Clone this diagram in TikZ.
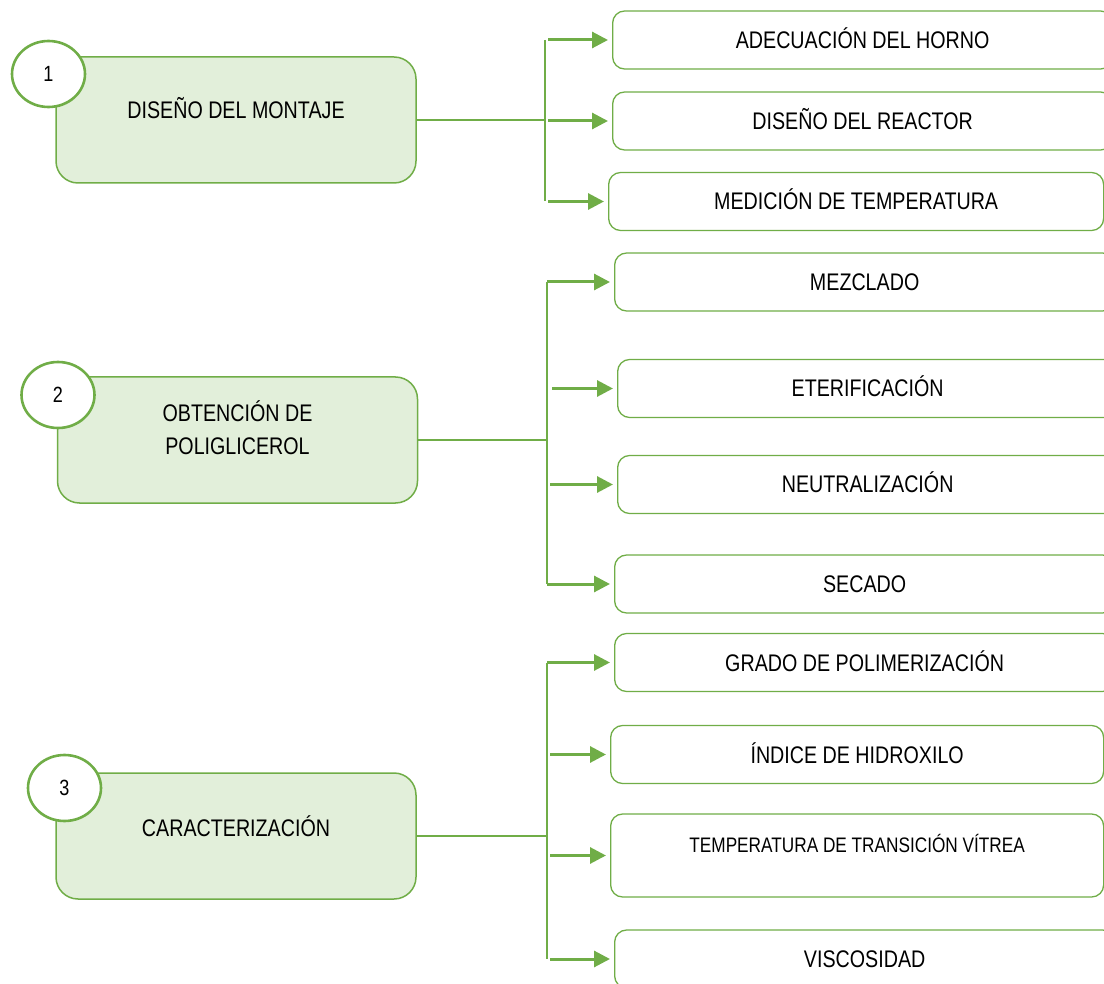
\documentclass[tikz,border=0pt]{standalone}
\usepackage{fontspec}
\setmainfont{Liberation Sans}[FakeStretch=0.82]
\usepackage{tikz}
\usetikzlibrary{arrows.meta,positioning,shapes.geometric,calc}
\definecolor{gline}{HTML}{70AD47}
\definecolor{gfill}{HTML}{E2EFDA}
\tikzset{
  mb/.style={rectangle,draw=gline,line width=1.5pt,rounded corners=22pt,fill=gfill,minimum width=360pt,minimum height=126pt,align=center,font=\fontsize{24}{33}\selectfont,text height=18pt,text depth=21pt},
  nb/.style={ellipse,draw=gline,line width=2.6pt,fill=white,minimum width=73pt,minimum height=66pt,inner sep=0pt,font=\fontsize{22}{26}\selectfont},
  sb/.style={rectangle,draw=gline,line width=1.3pt,rounded corners=12pt,fill=white,minimum width=500pt,minimum height=58pt,anchor=west,align=center,font=\fontsize{24}{29}\selectfont,text height=18pt,text depth=1pt},
  arr/.style={-{Triangle[length=16pt,width=16pt]},gline,line width=3pt,shorten >=4pt},
  ln/.style={gline,line width=1.5pt},
}
\begin{document}
\begin{tikzpicture}[x=1pt,y=-1pt]
  \useasboundingbox (0,0) rectangle (1104,984);
  \clip (0,0) rectangle (1104,984);
  % stages
  \node[mb] (m1) at (236,120) {DISEÑO DEL MONTAJE};
  \node[nb] (n1) at (48.5,74) {1};
  \node[mb,text height=50pt] (m2) at (237.5,440) {OBTENCIÓN DE\\POLIGLICEROL};
  \node[nb] (n2) at (58,395) {2};
  \node[mb,text depth=17pt] (m3) at (236,836) {CARACTERIZACIÓN};
  \node[nb] (n3) at (64.5,788) {3};
  % tasks
  \node[sb] (a1) at (612,40) {ADECUACIÓN DEL HORNO};
  \node[sb] (a2) at (612,121) {DISEÑO DEL REACTOR};
  \node[sb,minimum width=495pt] (a3) at (608,201.5) {MEDICIÓN DE TEMPERATURA};
  \node[sb] (b1) at (614,282) {MEZCLADO};
  \node[sb] (b2) at (617,388.5) {ETERIFICACIÓN};
  \node[sb] (b3) at (617,484.5) {NEUTRALIZACIÓN};
  \node[sb] (b4) at (614,584) {SECADO};
  \node[sb] (c1) at (614,662.5) {GRADO DE POLIMERIZACIÓN};
  \node[sb,minimum width=493pt] (c2) at (610,754.5) {ÍNDICE DE HIDROXILO};
  \node[sb,minimum width=493pt,minimum height=83pt,font=\fontsize{21}{25}\selectfont,text height=16pt,text depth=22pt] (c3) at (610,855.5) {TEMPERATURA DE TRANSICIÓN VÍTREA};
  \node[sb] (c4) at (614,959) {VISCOSIDAD};
  % connectors
  \coordinate (j1) at (545,117);
  \coordinate (j2) at (547,438);
  \coordinate (j3) at (547,833);
  \draw[ln] (m1.east) -- (m1.east -| j1);
  \draw[ln,line width=2pt] (j1 |- a1.west) -- (j1 |- a3.west);
  \draw[arr] ($(j1 |- a1.west)+(3,0)$) -- (a1.west);
  \draw[arr] ($(j1 |- a2.west)+(3,0)$) -- (a2.west);
  \draw[arr] ($(j1 |- a3.west)+(3,0)$) -- (a3.west);
  \draw[ln] (m2.east) -- (m2.east -| j2);
  \draw[ln,line width=2pt] (j2 |- b1.west) -- (j2 |- b4.west);
  \draw[arr] (j2 |- b1.west) -- (b1.west);
  \draw[arr] ($(j2 |- b2.west)+(5,0)$) -- (b2.west);
  \draw[arr] ($(j2 |- b3.west)+(3,0)$) -- (b3.west);
  \draw[arr] (j2 |- b4.west) -- (b4.west);
  \draw[ln] (m3.east) -- (m3.east -| j3);
  \draw[ln,line width=2pt] (j3 |- c1.west) -- (j3 |- c4.west);
  \draw[arr] (j3 |- c1.west) -- (c1.west);
  \draw[arr] ($(j3 |- c2.west)+(3,0)$) -- (c2.west);
  \draw[arr] ($(j3 |- c3.west)+(3,0)$) -- (c3.west);
  \draw[arr] ($(j3 |- c4.west)+(3,0)$) -- (c4.west);
\end{tikzpicture}
\end{document}
